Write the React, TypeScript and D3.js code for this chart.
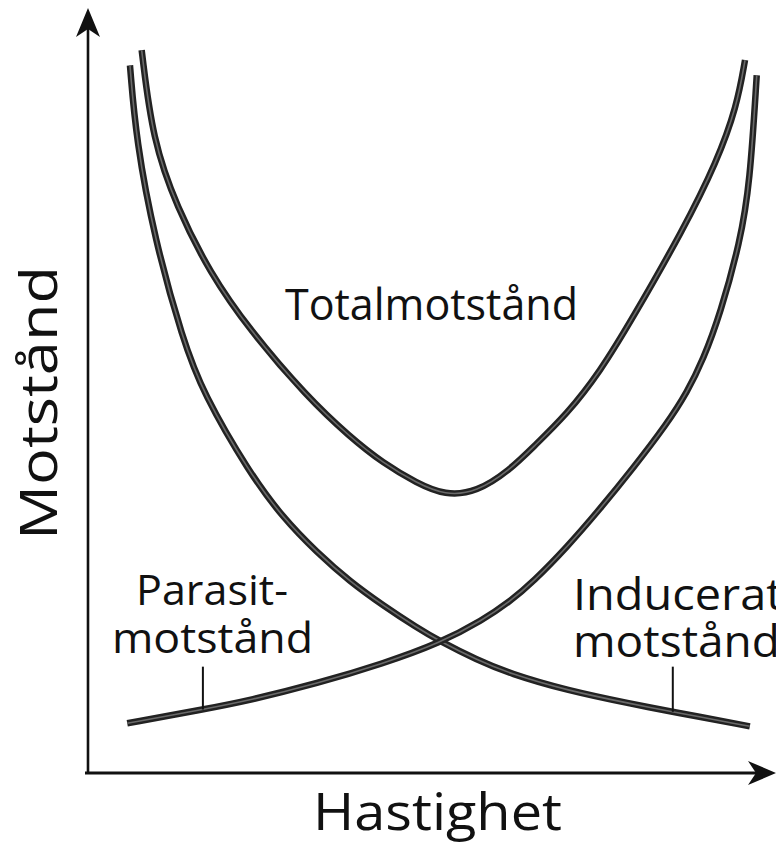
import React from "react";
import * as d3 from "d3";

// Speed (Hastighet) and drag (Motstånd), arbitrary units 0–10
const inducedDrag: [number, number][] = [
  [0.61, 9.25], [0.70, 8.27], [0.97, 6.97], [1.38, 5.66], [1.67, 4.97],
  [2.35, 3.92], [2.83, 3.34], [3.33, 2.88], [3.81, 2.50], [4.29, 2.19],
  [4.78, 1.90], [5.12, 1.72], [5.65, 1.48], [6.13, 1.30], [6.96, 1.08],
  [7.92, 0.90], [8.50, 0.80], [9.62, 0.61],
];

const parasiteDrag: [number, number][] = [
  [0.57, 0.65], [1.67, 0.83], [2.35, 0.95], [3.33, 1.17], [4.29, 1.43],
  [5.12, 1.70], [5.74, 2.00], [6.13, 2.24], [6.47, 2.50], [6.96, 2.95],
  [7.44, 3.45], [7.92, 3.98], [8.42, 4.57], [8.71, 4.98], [8.94, 5.40],
  [9.19, 6.00], [9.48, 6.95], [9.62, 7.70], [9.72, 9.12],
];

const totalDrag: [number, number][] = [
  [0.78, 9.45], [0.94, 8.27], [1.29, 7.40], [1.77, 6.54], [2.35, 5.79],
  [3.18, 4.92], [3.81, 4.39], [4.29, 4.05], [4.78, 3.79], [5.19, 3.63],
  [5.65, 3.67], [6.13, 3.96], [6.47, 4.26], [6.96, 4.69], [7.44, 5.24],
  [7.92, 5.95], [8.65, 7.10], [9.14, 7.99], [9.43, 8.71], [9.55, 9.32],
];

// pointer lines from the labels down to the curves
const pointerX = [1.67, 8.5];
const pointerTop = [1.39, 1.39];

const W = 776;
const H = 845;

export default function App() {
  const x = d3.scaleLinear().domain([0, 10]).range([88, 776]);
  const y = d3.scaleLinear().domain([0, 10]).range([773, 8]);

  const line = d3
    .line<[number, number]>()
    .x((d) => x(d[0]))
    .y((d) => y(d[1]))
    .curve(d3.curveBasis);

  const series = [inducedDrag, parasiteDrag, totalDrag];
  const pointerSeries = [parasiteDrag, inducedDrag];

  const font = "'Open Sans', 'Noto Sans', sans-serif";

  const x0 = x(0);
  const y0 = y(0);

  return (
    <svg
      width={W}
      height={H}
      style={{ position: "absolute", left: 0, top: 0, background: "#fff" }}
    >
      {/* axes */}
      <line x1={x0} y1={y0} x2={x0} y2={y(10) + 14} stroke="#111" strokeWidth={2.6} />
      <line x1={x0 - 3} y1={y0} x2={x(10) - 10} y2={y0} stroke="#111" strokeWidth={2.8} />
      <path
        d={`M${x0},${y(10)} L${x0 + 12},${y(10) + 29} L${x0},${y(10) + 21} L${x0 - 12},${y(10) + 29} Z`}
        fill="#111"
      />
      <path
        d={`M${x(10)},${y0} L${x(10) - 28},${y0 - 12} L${x(10) - 20},${y0} L${x(10) - 28},${y0 + 12} Z`}
        fill="#111"
      />

      {/* curves */}
      {series.map((s, i) => (
        <g key={i}>
          <path d={line(s) || ""} fill="none" stroke="#222" strokeWidth={6.5} strokeLinecap="butt" />
          <path d={line(s) || ""} fill="none" stroke="#6a6a6a" strokeWidth={1.6} strokeLinecap="butt" />
        </g>
      ))}

      {/* pointer lines */}
      {pointerX.map((px, i) => {
        const s = pointerSeries[i];
        const pt = s.find((d) => Math.abs(d[0] - px) < 0.01) || s[0];
        return (
          <line
            key={i}
            x1={x(px)}
            x2={x(px)}
            y1={y(pointerTop[i])}
            y2={y(pt[1])}
            stroke="#111"
            strokeWidth={2}
          />
        );
      })}

      {/* labels */}
      <text x={285} y={320} fontFamily={font} fontSize={44} fill="#111" textLength={293} lengthAdjust="spacingAndGlyphs">
        Totalmotstånd
      </text>
      <text x={136} y={605} fontFamily={font} fontSize={42} fill="#111" textLength={152} lengthAdjust="spacingAndGlyphs">
        Parasit-
      </text>
      <text x={112} y={653} fontFamily={font} fontSize={42} fill="#111" textLength={201} lengthAdjust="spacingAndGlyphs">
        motstånd
      </text>
      <text x={573} y={610} fontFamily={font} fontSize={43} fill="#111" textLength={210} lengthAdjust="spacingAndGlyphs">
        Inducerat
      </text>
      <text x={573} y={657} fontFamily={font} fontSize={43} fill="#111" textLength={207} lengthAdjust="spacingAndGlyphs">
        motstånd
      </text>
      <text x={313} y={830} fontFamily={font} fontSize={52} fill="#111" textLength={249} lengthAdjust="spacingAndGlyphs">
        Hastighet
      </text>
      <text
        transform={`translate(57,540) rotate(-90)`}
        fontFamily={font}
        fontSize={51}
        fill="#111"
        textLength={274}
        lengthAdjust="spacingAndGlyphs"
      >
        Motstånd
      </text>
    </svg>
  );
}
